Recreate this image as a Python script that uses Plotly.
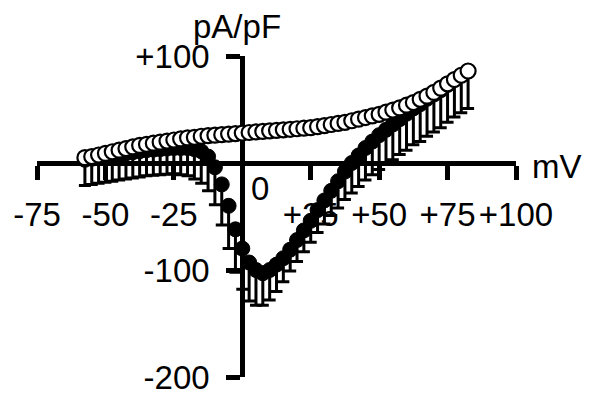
import plotly.graph_objects as go

# Membrane voltage (mV)
voltage = [-57.5, -55, -52.5, -50, -47.5, -45, -42.5, -40, -37.5, -35, -32.5, -30,
           -27.5, -25, -22.5, -20, -17.5, -15, -12.5, -10, -7.5, -5, -2.5, 0,
           2.5, 5, 7.5, 10, 12.5, 15, 17.5, 20, 22.5, 25, 27.5, 30, 32.5, 35,
           37.5, 40, 42.5, 45, 47.5, 50, 52.5, 55, 57.5, 60, 62.5, 65, 67.5,
           70, 72.5, 75, 77.5, 80, 82.5]

# Open-circle series (pA/pF)
open_mean = [5, 6, 7.5, 9, 10.5, 12, 13.5, 15, 16.5, 17.5, 18.5, 19.5,
             20.5, 21.5, 22.5, 23.5, 24, 25, 25.5, 26, 26.5, 27, 27.5, 28,
             28.5, 29, 29.5, 30, 30.5, 31, 31.5, 32, 32.5, 33, 34, 35, 36, 37,
             38, 39.5, 41, 42.5, 44, 45.5, 47.5, 49.5, 51.5, 54, 56.5, 59.5, 62.5,
             66, 70, 74, 78, 82, 86]
open_sem = [3] * len(voltage)

# Filled-circle series (pA/pF)
filled_mean = [3, 4, 5, 6, 7, 8, 9, 10, 11, 12, 12.5, 13,
               13.5, 14, 14, 14, 13, 11, 6, -4, -20, -40, -62, -80,
               -93, -100, -103, -100, -95, -89, -81, -72, -63, -54, -44, -35, -26, -17,
               -8, 0, 7, 14, 20, 26, 31, 36, 41, 46, 51, 55, 60,
               64, 68, 73, 78, 82, 86]
filled_sem = [24, 24, 24, 24, 24, 24, 24, 24, 24, 24, 24, 24,
              24, 24, 25, 26, 28, 30, 32, 35, 38, 40, 40, 38,
              36, 33, 30, 28, 25, 22, 20, 20, 20, 20, 21, 22, 23, 25,
              26, 28, 29, 30, 31, 32, 32, 33, 33, 34, 34, 35, 35,
              35, 35, 35, 35, 35, 35]

x_tickvals = [-75, -50, -25, 25, 50, 75, 100]
x_ticktext = ["-75", "-50", "-25", "+25", "+50", "+75", "+100"]
y_tickvals = [100, -100, -200]
y_ticktext = ["+100", "-100", "-200"]

FONT = "Liberation Sans, Arial, sans-serif"
FS = 33

fig = go.Figure()

fig.add_trace(go.Scatter(
    x=voltage, y=filled_mean, mode="markers",
    marker=dict(symbol="circle", size=15, color="black",
                line=dict(color="black", width=1)),
    error_y=dict(type="data", symmetric=False, array=[0] * len(voltage),
                 arrayminus=filled_sem, color="black", thickness=3, width=6),
    showlegend=False,
))

fig.add_trace(go.Scatter(
    x=voltage, y=open_mean, mode="markers",
    marker=dict(symbol="circle", size=15, color="white",
                line=dict(color="black", width=2.2)),
    error_y=dict(type="data", symmetric=False, array=[0] * len(voltage),
                 arrayminus=open_sem, color="black", thickness=3, width=6),
    showlegend=False,
))

fig.update_xaxes(
    range=[-75, 100], tickvals=x_tickvals, ticktext=x_ticktext,
    ticks="outside", ticklen=14, tickwidth=5, tickcolor="black",
    showline=True, linewidth=5, linecolor="black",
    anchor="free", position=2 / 3, showgrid=False, zeroline=False,
    layer="below traces", automargin=False,
    tickfont=dict(family=FONT, size=FS, color="black"),
    ticklabelstandoff=6,
)
fig.update_yaxes(
    range=[-200, 100], tickvals=y_tickvals, ticktext=y_ticktext,
    ticks="outside", ticklen=14, tickwidth=5, tickcolor="black",
    showline=True, linewidth=5, linecolor="black",
    anchor="free", position=75 / 175, showgrid=False, zeroline=False,
    layer="below traces", automargin=False,
    tickfont=dict(family=FONT, size=FS, color="black"),
    ticklabelstandoff=10,
)

ann_font = dict(family=FONT, size=FS, color="black")
fig.add_annotation(text="pA/pF", xref="paper", yref="paper", x=0.4175, y=1.093,
                   xanchor="center", yanchor="middle", showarrow=False, font=ann_font)
fig.add_annotation(text="mV", xref="paper", yref="paper", x=1.085, y=0.657,
                   xanchor="center", yanchor="middle", showarrow=False, font=ann_font)
fig.add_annotation(text="0", xref="paper", yref="paper", x=0.4656, y=0.5857,
                   xanchor="center", yanchor="middle", showarrow=False, font=ann_font)

# The page adds an 8 px body margin, so the figure is offset by that much.
fig.update_layout(
    width=583, height=388,
    margin=dict(l=29, r=75, t=48, b=19, pad=0),
    paper_bgcolor="white", plot_bgcolor="white",
    showlegend=False,
)

fig.write_html("out.html")
